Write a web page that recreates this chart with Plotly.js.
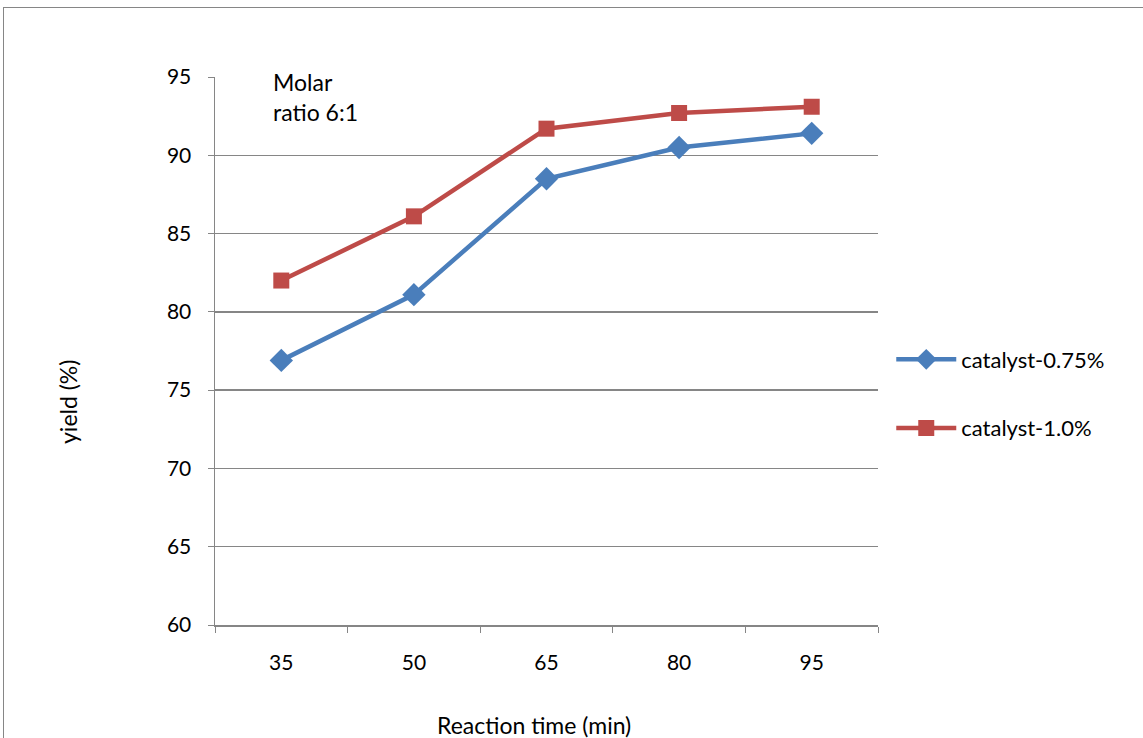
<!DOCTYPE html>
<html><head><meta charset="utf-8">
<script src="https://cdn.plot.ly/plotly-3.0.1.min.js"></script>
<style>
html,body{margin:0;padding:0;background:#fff;overflow:hidden;}
#chart{width:1143px;height:738px;position:relative;}
#frame{position:absolute;left:3px;top:7px;width:1200px;height:800px;border:1.5px solid #868686;pointer-events:none;z-index:10;}
</style></head>
<body>
<div id="chart"></div>
<div id="frame"></div>
<script>
const categories = ['35', '50', '65', '80', '95'];
const yield075 = [76.9, 81.1, 88.5, 90.5, 91.4];
const yield100 = [82.0, 86.1, 91.7, 92.7, 93.1];
const seriesNames = ['catalyst-0.75%', 'catalyst-1.0%'];
const yTicks = [60, 65, 70, 75, 80, 85, 90, 95];

const F = 'Lato, "Open Sans", sans-serif';
const traces = [
  {x: categories, y: yield075, name: seriesNames[0], type: 'scatter', mode: 'lines+markers',
   legendgroup: 'a', line: {color: '#4a7ebb', width: 4.5},
   marker: {symbol: 'diamond', size: 18, color: '#4a7ebb'}},
  {x: categories, y: yield100, name: seriesNames[1], type: 'scatter', mode: 'lines+markers',
   legendgroup: 'b', line: {color: '#be4b48', width: 4.5},
   marker: {symbol: 'square', size: 16, color: '#be4b48'}}
];
const layout = {
  width: 1143, height: 738,
  margin: {l: 215, r: 265, t: 77, b: 113},
  paper_bgcolor: '#fff', plot_bgcolor: '#fff',
  font: {family: F, color: '#000', size: 21},
  showlegend: true,
  legend: {x: 1.02, y: 1 - (394-77)/548, xanchor: 'left', yanchor: 'middle', traceorder: 'grouped',
           tracegroupgap: 37, itemwidth: 60, font: {size: 22, family: F}, bgcolor: 'rgba(0,0,0,0)'},
  xaxis: {type: 'category', range: [-0.5, 4.5], tickson: 'boundaries', ticks: 'outside',
          ticklen: 6, tickcolor: '#868686', showline: true, linecolor: '#868686', linewidth: 1.5,
          showgrid: false, zeroline: false, tickfont: {size: 21}, ticklabelstandoff: 18, fixedrange: true},
  yaxis: {range: [60, 95], tickvals: yTicks, ticks: 'outside', ticklen: 6, tickcolor: '#868686',
          showline: true, linecolor: '#868686', linewidth: 1.5, gridcolor: '#868686', gridwidth: 1.5,
          zeroline: false, tickfont: {size: 21}, ticklabelstandoff: 12},
  annotations: [
    {text: 'Molar<br>ratio 6:1', xref: 'paper', yref: 'paper', x: (271-215)/663, y: 1 - (66-77)/548,
     xanchor: 'left', yanchor: 'top', align: 'left', showarrow: false, font: {size: 23, family: F}},
    {text: 'Reaction time (min)', xref: 'paper', yref: 'paper', x: (534-215)/663, y: -(725-625)/548,
     xanchor: 'center', yanchor: 'middle', showarrow: false, font: {size: 23, family: F}},
    {text: 'yield (%)', xref: 'paper', yref: 'paper', x: (68-215)/663, y: 1 - (402-77)/548,
     xanchor: 'center', yanchor: 'middle', textangle: -90, showarrow: false, font: {size: 23, family: F}}
  ]
};
Plotly.newPlot('chart', traces, layout, {displayModeBar: false, staticPlot: true});
</script>
</body></html>
